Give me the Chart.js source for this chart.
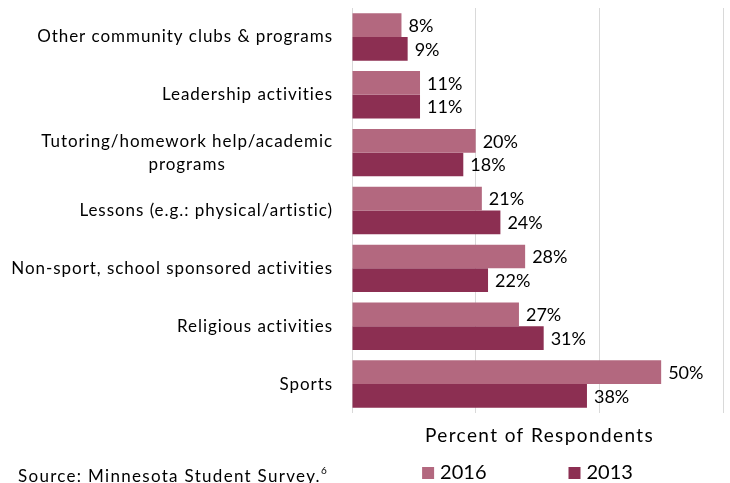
<!DOCTYPE html>
<html>
<head>
<meta charset="utf-8">
<script src="https://cdn.jsdelivr.net/npm/chart.js@4.4.0/dist/chart.umd.min.js"></script>
<style>
  html, body { margin: 0; padding: 0; background: #fff; }
  #wrap { width: 730px; height: 483px; position: relative; }
</style>
</head>
<body>
<div id="wrap"><canvas id="myChart"></canvas></div>
<script>
const categories = [
    'Other community clubs & programs',
    'Leadership activities',
    ['Tutoring/homework help/academic', 'programs'],
    'Lessons (e.g.: physical/artistic)',
    'Non-sport, school sponsored activities',
    'Religious activities',
    'Sports'
]
const values2016 = [8, 11, 20, 21, 28, 27, 50]
const values2013 = [9, 11, 18, 24, 22, 31, 38]
const seriesNames = ['2016', '2013']
const xMin = 0
const xMax = 60
const xStep = 20
const xTitle = 'Percent of Respondents'
const sourceNote = 'Source: Minnesota Student Survey.'

const FONT = 'Lato, "Open Sans", sans-serif'
const colors = ['#B3687F', '#8C2F52']

// category labels: multi-line block, lines centred, block right aligned to the axis
const categoryLabels = {
    id: 'categoryLabels',
    afterDraw(chart) {
        const ctx = chart.ctx
        const yScale = chart.scales.y
        const right = chart.chartArea.left - 19
        ctx.save()
        ctx.font = '17px ' + FONT
        ctx.letterSpacing = '0.95px'
        ctx.fillStyle = '#000'
        ctx.textAlign = 'center'
        ctx.textBaseline = 'middle'
        chart.data.labels.forEach((label, i) => {
            const lines = Array.isArray(label) ? label : [label]
            const maxW = Math.max(...lines.map(l => ctx.measureText(l).width))
            const cx = right - maxW / 2
            const lh = 23
            const y0 = yScale.getPixelForValue(i) - (lines.length - 1) * lh / 2
            lines.forEach((l, k) => ctx.fillText(l, cx, y0 + k * lh))
        })
        ctx.restore()
    }
}

const valueLabels = {
    id: 'valueLabels',
    afterDatasetsDraw(chart) {
        const ctx = chart.ctx
        ctx.save()
        ctx.font = '18px ' + FONT
        ctx.fillStyle = '#000'
        ctx.textAlign = 'left'
        ctx.textBaseline = 'middle'
        chart.data.datasets.forEach((ds, di) => {
            chart.getDatasetMeta(di).data.forEach((bar, i) => {
                ctx.fillText(ds.data[i] + '%', bar.x + 7, bar.y + 1)
            })
        })
        ctx.restore()
    }
}

const bottomTexts = {
    id: 'bottomTexts',
    afterDraw(chart) {
        const ctx = chart.ctx
        const area = chart.chartArea
        ctx.save()
        ctx.fillStyle = '#000'
        ctx.textBaseline = 'alphabetic'

        // axis title
        ctx.font = '19px ' + FONT
        ctx.letterSpacing = '1.4px'
        ctx.textAlign = 'center'
        ctx.fillText(xTitle, (area.left + area.right) / 2 + 2, 442)

        // legend
        ctx.letterSpacing = '0px'
        ctx.font = '20px ' + FONT
        ctx.textAlign = 'left'
        const box = 12, gap = 6, itemGap = 82
        const items = chart.data.datasets.map(ds => ({ text: ds.label, color: ds.backgroundColor, w: box + gap + ctx.measureText(ds.label).width }))
        const total = items.reduce((s, it) => s + it.w, 0) + itemGap * (items.length - 1)
        let x = (area.left + area.right) / 2 - 10 - total / 2
        const baseline = 479
        items.forEach(it => {
            ctx.fillStyle = it.color
            ctx.fillRect(x, baseline - 12, box, 12)
            ctx.fillStyle = '#000'
            ctx.fillText(it.text, x + box + gap, baseline)
            x += it.w + itemGap
        })

        // source note
        ctx.font = '17px ' + FONT
        ctx.letterSpacing = '1.3px'
        ctx.fillText(sourceNote, 18, 482)
        const w = ctx.measureText(sourceNote).width
        ctx.font = '10px ' + FONT
        ctx.letterSpacing = '0px'
        ctx.fillText('6', 18 + w, 474)
        ctx.restore()
    }
}

const ctx = document.getElementById('myChart')

new Chart(ctx, {
    type: 'bar',
    data: {
        labels: categories,
        datasets: [
            { label: seriesNames[0], data: values2016, backgroundColor: colors[0] },
            { label: seriesNames[1], data: values2013, backgroundColor: colors[1] }
        ]
    },
    options: {
        indexAxis: 'y',
        responsive: true,
        maintainAspectRatio: false,
        animation: false,
        categoryPercentage: 0.82,
        barPercentage: 1.0,
        layout: { padding: { left: 352, right: 7, top: 8, bottom: 70 } },
        scales: {
            x: {
                min: xMin,
                max: xMax,
                ticks: { stepSize: xStep, display: false },
                grid: { color: '#d9d9d9', drawTicks: false, lineWidth: 1 },
                border: { display: false }
            },
            y: {
                display: false
            }
        },
        plugins: {
            legend: { display: false },
            tooltip: { enabled: false }
        }
    },
    plugins: [categoryLabels, valueLabels, bottomTexts]
})
</script>
</body>
</html>
